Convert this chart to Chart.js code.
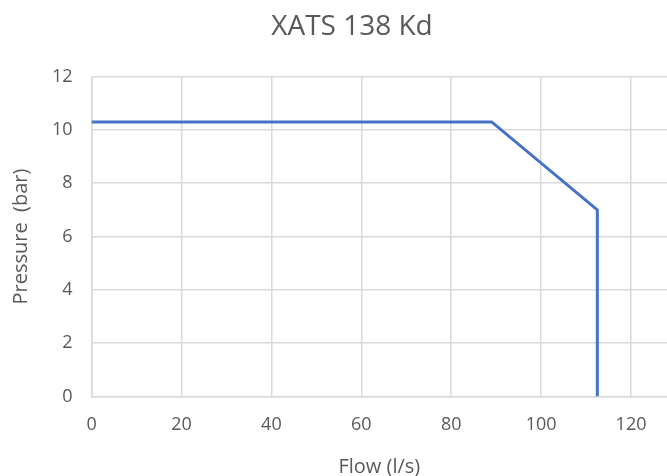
<!DOCTYPE html>
<html>
<head>
<meta charset="utf-8">
<script src="https://cdn.jsdelivr.net/npm/chart.js@4"></script>
<style>
    html, body { margin: 0; padding: 0; background: #fff; }
    #wrap { width: 667px; height: 476px; }
</style>
</head>
<body>
<div id="wrap"><canvas id="chart"></canvas></div>
<script>
    // curve points
    var flow = [0, 89, 112.5, 112.5];
    var pressure = [10.3, 10.3, 7, 0];
    var xTicks = [0, 20, 40, 60, 80, 100, 120];
    var yTicks = [0, 2, 4, 6, 8, 10, 12];

    var points = [];
    for (var i = 0; i < flow.length; i++) {
        points.push({x: flow[i], y: pressure[i]});
    }

    var grey = '#595959';
    var gridColor = '#d9d9d9';

    // the title in the picture sits a little right of the canvas centre
    var nudgeTitle = {
        id: 'nudgeTitle',
        afterLayout: function (chart) {
            if (chart.titleBlock) {
                chart.titleBlock.left += 36;
            }
        }
    };

    var config = {
        type: 'scatter',
        data: {
            datasets: [{
                label: 'XATS 138 Kd',
                data: points,
                showLine: true,
                borderColor: '#4472C4',
                backgroundColor: '#4472C4',
                borderWidth: 3,
                pointRadius: 0,
                tension: 0
            }]
        },
        options: {
            responsive: true,
            maintainAspectRatio: false,
            animation: false,
            layout: { padding: { left: 1, right: 0, top: 10, bottom: -1 } },
            plugins: {
                legend: { display: false },
                tooltip: { enabled: false },
                title: {
                    display: true,
                    text: 'XATS 138 Kd',
                    color: grey,
                    font: { family: 'Open Sans', size: 28, weight: 'normal' },
                    padding: { top: 0, bottom: 33 }
                }
            },
            scales: {
                x: {
                    type: 'linear',
                    min: 0,
                    max: 128,
                    afterBuildTicks: function (scale) {
                        scale.ticks = xTicks.map(function (v) { return {value: v}; });
                    },
                    ticks: {
                        color: grey,
                        font: { family: 'Open Sans', size: 18 },
                        padding: 18,
                        maxRotation: 0
                    },
                    grid: { color: gridColor, lineWidth: 1.5, drawTicks: false },
                    border: { color: gridColor, width: 1.5 },
                    title: {
                        display: true,
                        text: 'Flow (l/s)',
                        color: grey,
                        font: { family: 'Open Sans', size: 20, lineHeight: 1 },
                        padding: { top: 3, bottom: 0 }
                    }
                },
                y: {
                    type: 'linear',
                    min: 0,
                    max: 12,
                    afterBuildTicks: function (scale) {
                        scale.ticks = yTicks.map(function (v) { return {value: v}; });
                    },
                    ticks: {
                        color: grey,
                        font: { family: 'Open Sans', size: 18 },
                        padding: 19
                    },
                    grid: { color: gridColor, lineWidth: 1.5, drawTicks: false },
                    border: { color: gridColor, width: 1.5 },
                    title: {
                        display: true,
                        text: 'Pressure  (bar)',
                        color: grey,
                        font: { family: 'Open Sans', size: 20 },
                        padding: { top: 8, bottom: 0 }
                    }
                }
            }
        },
        plugins: [nudgeTitle]
    };

    new Chart(document.getElementById('chart'), config);
</script>
</body>
</html>
